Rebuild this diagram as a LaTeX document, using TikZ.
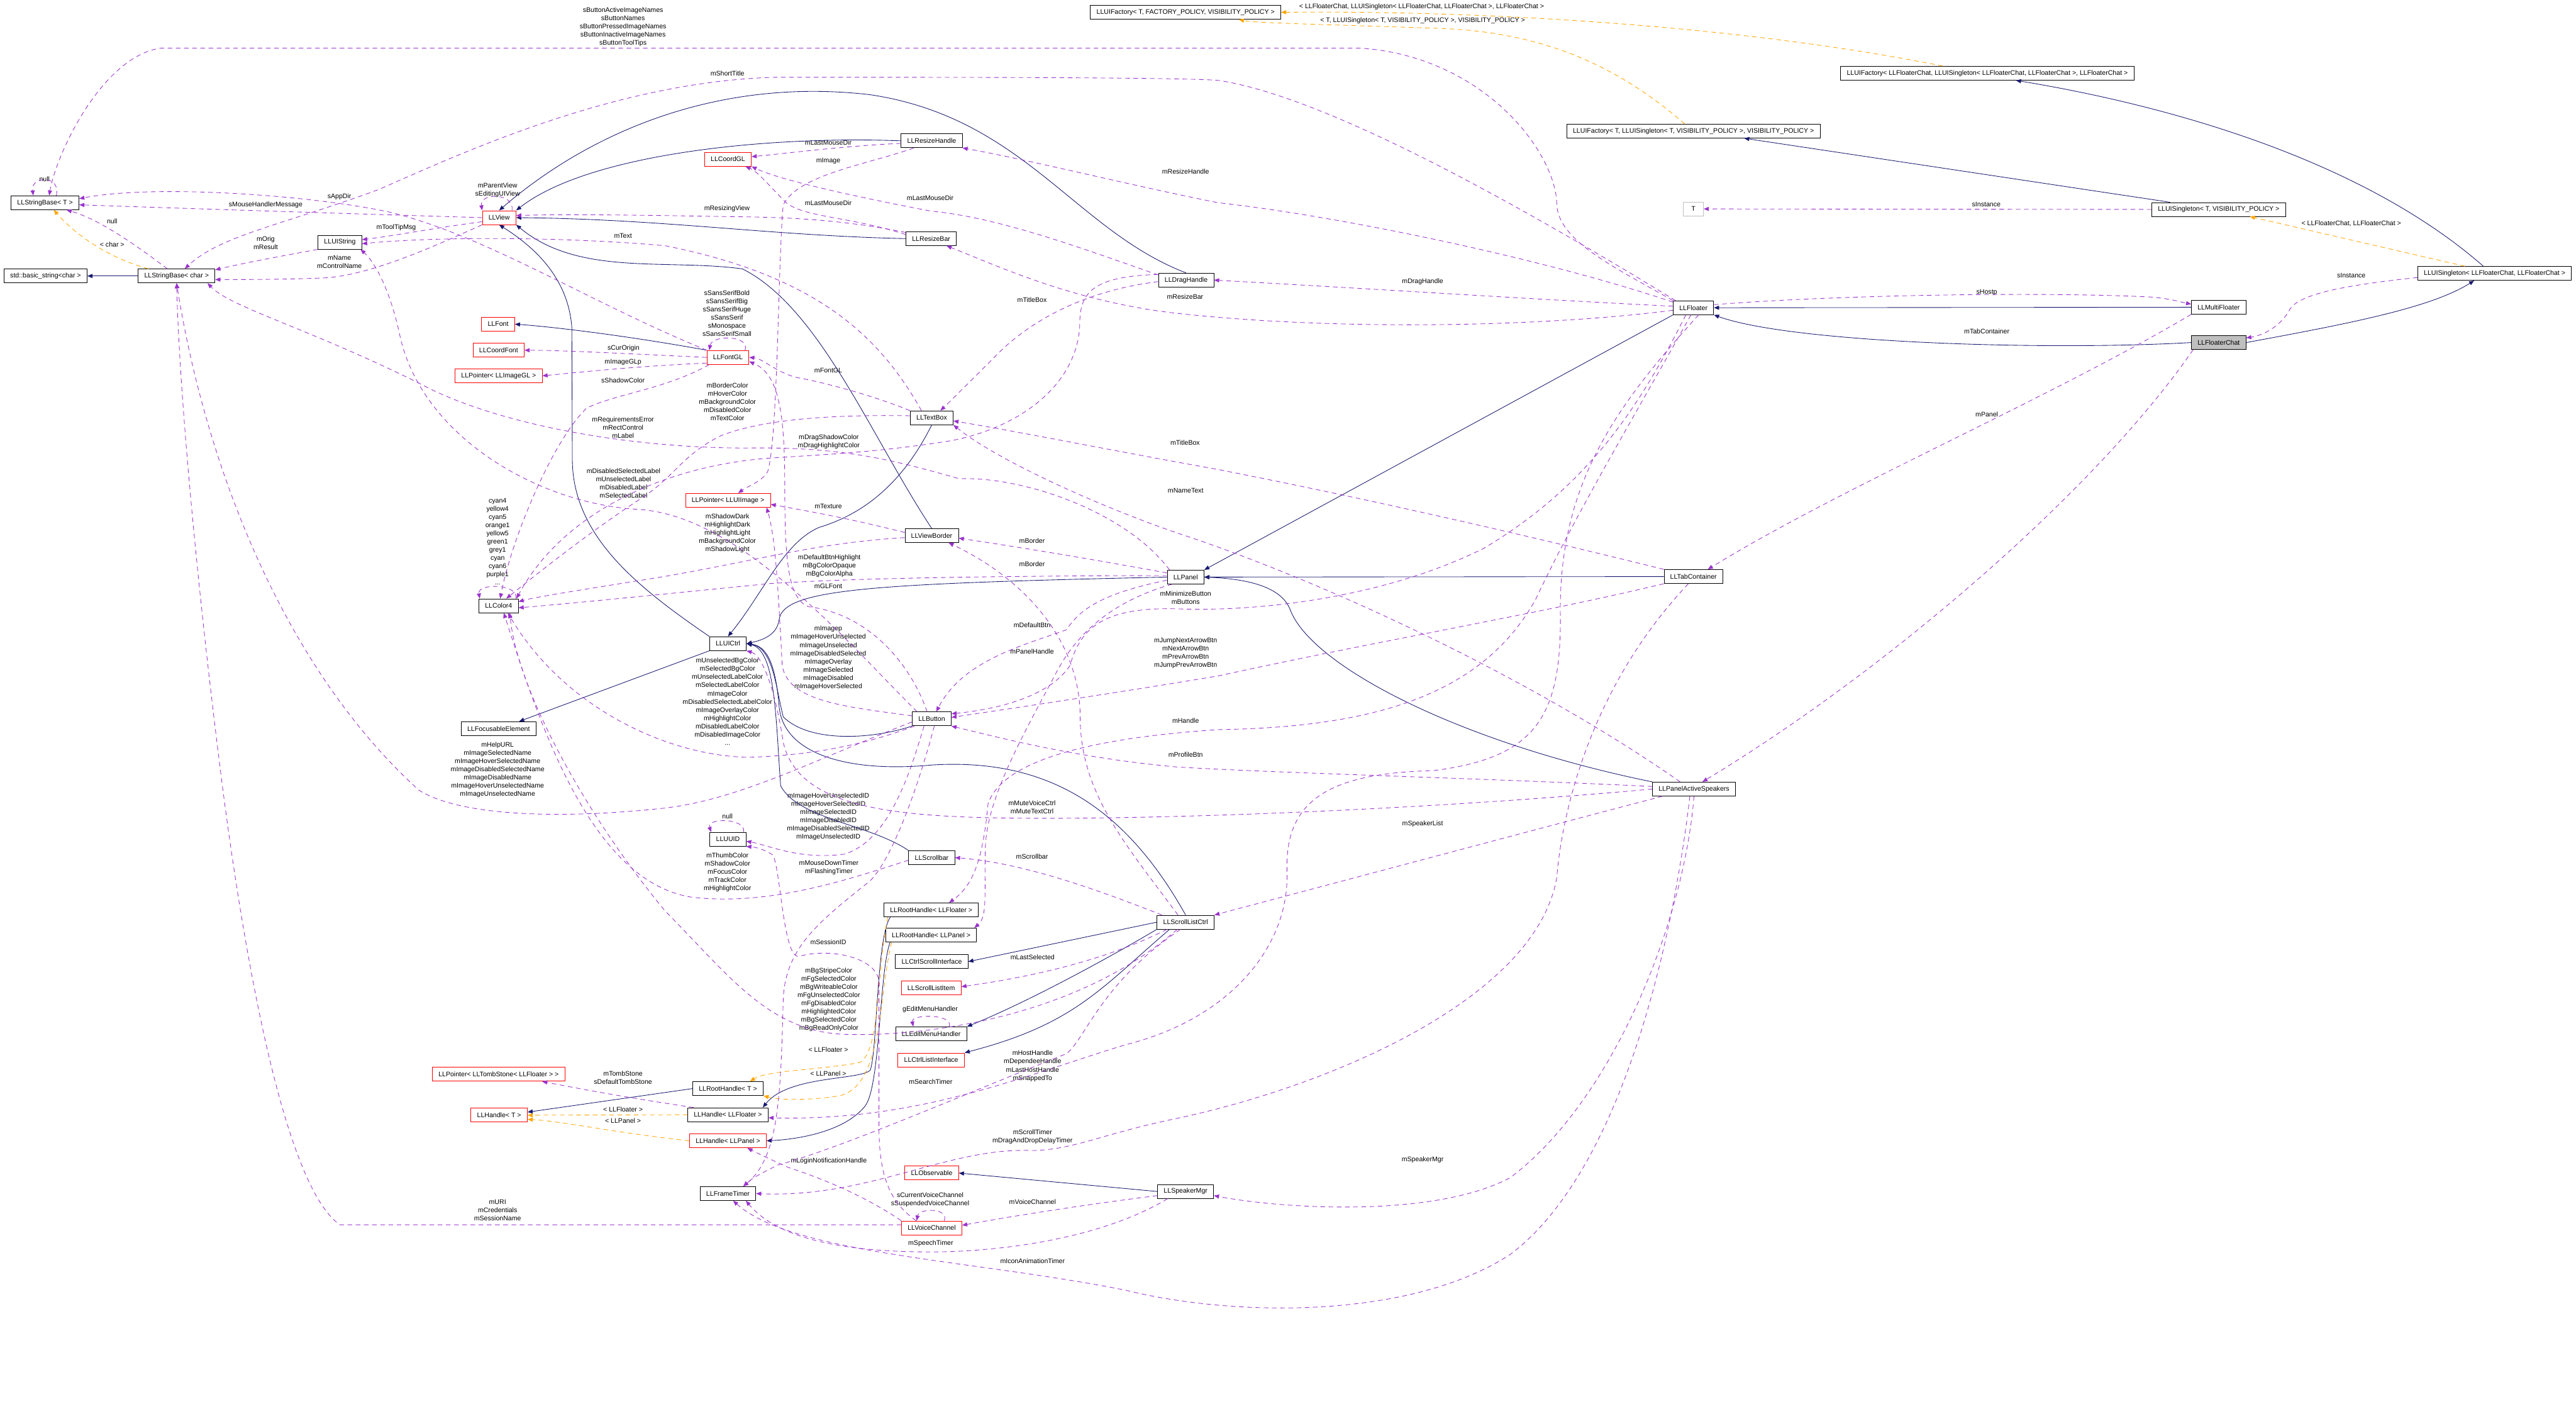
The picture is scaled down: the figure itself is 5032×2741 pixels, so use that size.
\documentclass[tikz,border=0pt]{standalone}
\usepackage{fontspec}
\setmainfont{Liberation Sans}
\usepackage{tikz}
\usetikzlibrary{
  arrows.meta, positioning, calc
}
\usepackage{xcolor}
\definecolor{dgnavy}{HTML}{191970}
\definecolor{dgpurple}{HTML}{9A32CD}
\definecolor{dgorange}{HTML}{FFA500}
\definecolor{dgred}{HTML}{FF0000}
\definecolor{dggray}{HTML}{BFBFBF}
\newcommand{\dgfont}{\fontsize{3.7pt}{4.55pt}\selectfont}

\begin{document}
\begin{tikzpicture}[
  x=0.01cm, y=-0.01cm,
  cls/.style={draw=black, line width=0.3pt, fill=white, font=\dgfont,
    inner xsep=0.12cm, inner ysep=0pt, minimum height=0.27cm},
  ext/.style={cls, draw=dgred},
  focal/.style={cls, fill=dggray},
  tparam/.style={cls, draw=dggray, minimum width=0.39cm},
  lbl/.style={font=\dgfont, align=center, inner sep=0pt},
  inh/.style={draw=dgnavy, line width=0.3pt, -{Triangle[length=0.1cm,width=0.08cm]}},
  use/.style={draw=dgpurple, line width=0.3pt, dash pattern=on 0.09cm off 0.07cm,
    -{Triangle[length=0.1cm,width=0.08cm]}},
  tpl/.style={use, draw=dgorange}
]
  \fill[white] (0,0) rectangle (5032,2741);
  \useasboundingbox (0,0) rectangle (5032,2741);

  \node[cls] (sbT) at (88,396) {LLStringBase< T >};
  \node[cls] (stdstr) at (89,539) {std::basic\_string<char >};
  \node[cls] (sbchar) at (345,539) {LLStringBase< char >};
  \node[cls] (uistr) at (664,473) {LLUIString};
  \node[ext] (view) at (975,425) {LLView};
  \node[ext] (coordgl) at (1422,311) {LLCoordGL};
  \node[ext] (font) at (973,633) {LLFont};
  \node[ext] (coordfont) at (974,684) {LLCoordFont};
  \node[ext] (ptrimggl) at (974,734) {LLPointer< LLImageGL >};
  \node[ext] (fontgl) at (1422,698) {LLFontGL};
  \node[cls] (resizehandle) at (1820,275) {LLResizeHandle};
  \node[cls] (resizebar) at (1819,466) {LLResizeBar};
  \node[cls] (draghandle) at (2317,547) {LLDragHandle};
  \node[cls] (textbox) at (1820,816) {LLTextBox};
  \node[cls] (factT) at (2316,24) {LLUIFactory< T, FACTORY\_POLICY, VISIBILITY\_POLICY >};
  \node[cls] (factTS) at (3308,256) {LLUIFactory< T, LLUISingleton< T, VISIBILITY\_POLICY >, VISIBILITY\_POLICY >};
  \node[cls] (factChat) at (3882,143) {LLUIFactory< LLFloaterChat, LLUISingleton< LLFloaterChat, LLFloaterChat >, LLFloaterChat >};
  \node[tparam] (tT) at (3308,408) {T};
  \node[cls] (floater) at (3308,601) {LLFloater};
  \node[cls] (singT) at (4334,409) {LLUISingleton< T, VISIBILITY\_POLICY >};
  \node[cls] (singChat) at (4873,534) {LLUISingleton< LLFloaterChat, LLFloaterChat >};
  \node[cls] (multi) at (4334,600) {LLMultiFloater};
  \node[focal] (chat) at (4334,669) {LLFloaterChat};
  \node[ext] (ptruiimg) at (1422,977) {LLPointer< LLUIImage >};
  \node[cls] (color4) at (974,1183) {LLColor4};
  \node[cls] (uictrl) at (1422,1257) {LLUICtrl};
  \node[cls] (focus) at (974,1423) {LLFocusableElement};
  \node[cls] (uuid) at (1422,1639) {LLUUID};
  \node[cls] (viewborder) at (1820,1046) {LLViewBorder};
  \node[cls] (panel) at (2316,1127) {LLPanel};
  \node[cls] (tabcont) at (3308,1126) {LLTabContainer};
  \node[cls] (button) at (1820,1404) {LLButton};
  \node[cls] (activespk) at (3309,1541) {LLPanelActiveSpeakers};
  \node[cls] (scrollbar) at (1820,1675) {LLScrollbar};
  \node[cls] (rhFloater) at (1819,1777) {LLRootHandle< LLFloater >};
  \node[cls] (rhPanel) at (1819,1826) {LLRootHandle< LLPanel >};
  \node[cls] (scrolllist) at (2316,1801) {LLScrollListCtrl};
  \node[cls] (ctrlscroll) at (1820,1878) {LLCtrlScrollInterface};
  \node[ext] (scrollitem) at (1819,1929) {LLScrollListItem};
  \node[cls] (editmenu) at (1819,2019) {LLEditMenuHandler};
  \node[ext] (ctrllist) at (1819,2070) {LLCtrlListInterface};
  \node[ext] (observable) at (1820,2291) {LLObservable};
  \node[cls] (speakermgr) at (2316,2327) {LLSpeakerMgr};
  \node[ext] (voicechan) at (1820,2398) {LLVoiceChannel};
  \node[ext] (ptrtomb) at (974,2098) {LLPointer< LLTombStone< LLFloater > >};
  \node[cls] (rhT) at (1422,2126) {LLRootHandle< T >};
  \node[ext] (handleT) at (975,2178) {LLHandle< T >};
  \node[cls] (handleFloater) at (1422,2177) {LLHandle< LLFloater >};
  \node[ext] (handlePanel) at (1422,2228) {LLHandle< LLPanel >};
  \node[cls] (frametimer) at (1422,2331) {LLFrameTimer};

  \node[lbl] (lnullA) at (87,350) {null};
  \node[lbl] (lnullB) at (219,432) {null};
  \node[lbl] (lchar) at (219,477) {< char >};
  \node[lbl] (lMouseMsg) at (519,400) {sMouseHandlerMessage};
  \node[lbl] (lAppDir) at (663,384) {sAppDir};
  \node[lbl] (lOrig) at (519,474) {mOrig\\mResult};
  \node[lbl] (lName) at (663,512) {mName\\mControlName};
  \node[lbl] (lToolTip) at (774,444) {mToolTipMsg};
  \node[lbl] (lParent) at (972,371) {mParentView\\sEditingUIView};
  \node[lbl] (lBtnNames) at (1217,53) {sButtonActiveImageNames\\sButtonNames\\sButtonPressedImageNames\\sButtonInactiveImageNames\\sButtonToolTips};
  \node[lbl] (lShortTitle) at (1421,143) {mShortTitle};
  \node[lbl] (lResizingView) at (1420,408) {mResizingView};
  \node[lbl] (lText) at (1217,460) {mText};
  \node[lbl] (lSans) at (1420,612) {sSansSerifBold\\sSansSerifBig\\sSansSerifHuge\\sSansSerif\\sMonospace\\sSansSerifSmall};
  \node[lbl] (lCurOrigin) at (1218,680) {sCurOrigin};
  \node[lbl] (lImageGLp) at (1217,707) {mImageGLp};
  \node[lbl] (lShadowCol) at (1217,743) {sShadowColor};
  \node[lbl] (lBorderCols) at (1421,785) {mBorderColor\\mHoverColor\\mBackgroundColor\\mDisabledColor\\mTextColor};
  \node[lbl] (lReqErr) at (1217,835) {mRequirementsError\\mRectControl\\mLabel};
  \node[lbl] (lLabels) at (1218,944) {mDisabledSelectedLabel\\mUnselectedLabel\\mDisabledLabel\\mSelectedLabel};
  \node[lbl] (lLastDirA) at (1618,279) {mLastMouseDir};
  \node[lbl] (lImage) at (1618,314) {mImage};
  \node[lbl] (lLastDirB) at (1618,396) {mLastMouseDir};
  \node[lbl] (lLastDirC) at (1817,387) {mLastMouseDir};
  \node[lbl] (lResizeHandle) at (2316,335) {mResizeHandle};
  \node[lbl] (lResizeBar) at (2315,579) {mResizeBar};
  \node[lbl] (lTitleBoxA) at (2016,586) {mTitleBox};
  \node[lbl] (lFontGL) at (1618,724) {mFontGL};
  \node[lbl] (lDragCols) at (1619,863) {mDragShadowColor\\mDragHighlightColor};
  \node[lbl] (lTitleBoxB) at (2315,864) {mTitleBox};
  \node[lbl] (lNameText) at (2316,958) {mNameText};
  \node[lbl] (lTplChat) at (2777,13) {< LLFloaterChat, LLUISingleton< LLFloaterChat, LLFloaterChat >, LLFloaterChat >};
  \node[lbl] (lTplT) at (2779,40) {< T, LLUISingleton< T, VISIBILITY\_POLICY >, VISIBILITY\_POLICY >};
  \node[lbl] (lDragHandle) at (2779,550) {mDragHandle};
  \node[lbl] (lInstT) at (3880,399) {sInstance};
  \node[lbl] (lTplSing) at (4593,437) {< LLFloaterChat, LLFloaterChat >};
  \node[lbl] (lInstChat) at (4593,538) {sInstance};
  \node[lbl] (lHostp) at (3881,571) {sHostp};
  \node[lbl] (lTabCont) at (3881,647) {mTabContainer};
  \node[lbl] (lPanel) at (3881,809) {mPanel};
  \node[lbl] (lColorNames) at (972,1058) {cyan4\\yellow4\\cyan5\\orange1\\yellow5\\green1\\grey1\\cyan\\cyan6\\purple1\\...};
  \node[lbl] (lShadowCols) at (1421,1041) {mShadowDark\\mHighlightDark\\mHighlightLight\\mBackgroundColor\\mShadowLight};
  \node[lbl] (lTexture) at (1618,989) {mTexture};
  \node[lbl] (lPanelCols) at (1620,1105) {mDefaultBtnHighlight\\mBgColorOpaque\\mBgColorAlpha};
  \node[lbl] (lGLFont) at (1618,1145) {mGLFont};
  \node[lbl] (lBorderA) at (2016,1056) {mBorder};
  \node[lbl] (lBorderB) at (2016,1101) {mBorder};
  \node[lbl] (lMinimize) at (2316,1167) {mMinimizeButton\\mButtons};
  \node[lbl] (lImages) at (1618,1285) {mImagep\\mImageHoverUnselected\\mImageUnselected\\mImageDisabledSelected\\mImageOverlay\\mImageSelected\\mImageDisabled\\mImageHoverSelected};
  \node[lbl] (lDefaultBtn) at (2016,1221) {mDefaultBtn};
  \node[lbl] (lPanelHandle) at (2016,1272) {mPanelHandle};
  \node[lbl] (lArrowBtns) at (2316,1276) {mJumpNextArrowBtn\\mNextArrowBtn\\mPrevArrowBtn\\mJumpPrevArrowBtn};
  \node[lbl] (lBtnCols) at (1421,1370) {mUnselectedBgColor\\mSelectedBgColor\\mUnselectedLabelColor\\mSelectedLabelColor\\mImageColor\\mDisabledSelectedLabelColor\\mImageOverlayColor\\mHighlightColor\\mDisabledLabelColor\\mDisabledImageColor\\...};
  \node[lbl] (lHelpURL) at (972,1503) {mHelpURL\\mImageSelectedName\\mImageHoverSelectedName\\mImageDisabledSelectedName\\mImageDisabledName\\mImageHoverUnselectedName\\mImageUnselectedName};
  \node[lbl] (lHandle) at (2316,1408) {mHandle};
  \node[lbl] (lProfileBtn) at (2316,1474) {mProfileBtn};
  \node[lbl] (lImageIDs) at (1618,1595) {mImageHoverUnselectedID\\mImageHoverSelectedID\\mImageSelectedID\\mImageDisabledID\\mImageDisabledSelectedID\\mImageUnselectedID};
  \node[lbl] (lMute) at (2016,1577) {mMuteVoiceCtrl\\mMuteTextCtrl};
  \node[lbl] (lnullC) at (1421,1594) {null};
  \node[lbl] (lScrollCols) at (1421,1704) {mThumbColor\\mShadowColor\\mFocusColor\\mTrackColor\\mHighlightColor};
  \node[lbl] (lScrollbar) at (2016,1673) {mScrollbar};
  \node[lbl] (lTimers) at (1619,1694) {mMouseDownTimer\\mFlashingTimer};
  \node[lbl] (lSpeakerList) at (2779,1609) {mSpeakerList};
  \node[lbl] (lSessionID) at (1618,1840) {mSessionID};
  \node[lbl] (lLastSel) at (2017,1870) {mLastSelected};
  \node[lbl] (lListCols) at (1619,1952) {mBgStripeColor\\mFgSelectedColor\\mBgWriteableColor\\mFgUnselectedColor\\mFgDisabledColor\\mHighlightedColor\\mBgSelectedColor\\mBgReadOnlyColor};
  \node[lbl] (lEditMenu) at (1817,1972) {gEditMenuHandler};
  \node[lbl] (lTplFloaterA) at (1618,2050) {< LLFloater >};
  \node[lbl] (lHostHandle) at (2017,2082) {mHostHandle\\mDependeeHandle\\mLastHostHandle\\mSnappedTo};
  \node[lbl] (lTplPanelA) at (1618,2097) {< LLPanel >};
  \node[lbl] (lSearchTimer) at (1818,2113) {mSearchTimer};
  \node[lbl] (lTombStone) at (1217,2105) {mTombStone\\sDefaultTombStone};
  \node[lbl] (lTplFloaterB) at (1217,2167) {< LLFloater >};
  \node[lbl] (lTplPanelB) at (1217,2189) {< LLPanel >};
  \node[lbl] (lScrollTimer) at (2017,2220) {mScrollTimer\\mDragAndDropDelayTimer};
  \node[lbl] (lSpeakerMgr) at (2779,2265) {mSpeakerMgr};
  \node[lbl] (lLoginHandle) at (1619,2267) {mLoginNotificationHandle};
  \node[lbl] (lVoiceStatic) at (1817,2343) {sCurrentVoiceChannel\\sSuspendedVoiceChannel};
  \node[lbl] (lVoiceChannel) at (2017,2347) {mVoiceChannel};
  \node[lbl] (lURI) at (972,2364) {mURI\\mCredentials\\mSessionName};
  \node[lbl] (lSpeechTimer) at (1818,2429) {mSpeechTimer};
  \node[lbl] (lIconTimer) at (2017,2463) {mIconAnimationTimer};

  \draw[inh] (sbchar.west) -- (stdstr.east);
  \draw[inh] (fontgl.north west) .. controls (1250,660) and (1100,640) .. (font.east);
  \draw[inh] (uictrl.north west) .. controls (1250,1150) and (1120,1050) .. (1118,900) -- (1117,640) .. controls (1110,540) and (1040,480) .. (view.south);
  \draw[inh] (uictrl.south west) -- ($(focus.north)+(40,0)$);
  \draw[inh] (resizehandle.west) .. controls (1500,265) and (1150,300) .. (view.north east);
  \draw[inh] (resizebar.west) .. controls (1500,460) and (1300,428) .. (view.east);
  \draw[inh] (draghandle.north) .. controls (2100,450) and (2000,230) .. (1700,185) .. controls (1400,150) and (1150,260) .. (view.north);
  \draw[inh] (textbox.south) .. controls (1770,930) and (1700,1000) .. (1600,1030) .. controls (1530,1060) and (1490,1160) .. (uictrl.north);
  \draw[inh] (viewborder.north) .. controls (1700,850) and (1600,600) .. (1450,525) .. controls (1300,505) and (1130,540) .. (view.south east);
  \draw[inh] (panel.west) .. controls (1700,1140) and (1530,1150) .. (1522,1210) .. controls (1518,1240) and (1490,1250) .. (uictrl.east);
  \draw[inh] (button.south west) .. controls (1700,1445) and (1580,1450) .. (1530,1400) .. controls (1515,1340) and (1510,1265) .. (uictrl.east);
  \draw[inh] (scrollbar.north west) .. controls (1700,1610) and (1560,1600) .. (1525,1535) .. controls (1515,1400) and (1515,1270) .. (uictrl.east);
  \draw[inh] (scrolllist.north) .. controls (2200,1580) and (2050,1480) .. (1821,1494) .. controls (1650,1510) and (1530,1470) .. (1522,1380) .. controls (1515,1300) and (1500,1262) .. (uictrl.east);
  \draw[inh] (floater.south west) -- (panel.north east);
  \draw[inh] (tabcont.west) -- (panel.east);
  \draw[inh] (activespk.north west) .. controls (2850,1450) and (2560,1300) .. (2520,1190) .. controls (2500,1140) and (2420,1130) .. (panel.east);
  \draw[inh] (chat.west) .. controls (4000,685) and (3500,670) .. (floater.south east);
  \draw[inh] (chat.east) .. controls (4600,630) and (4750,600) .. ($(singChat.south)+(-40,0)$);
  \draw[inh] ($(singChat.north)+(-22,0)$) .. controls (4600,300) and (4200,200) .. ($(factChat.south)+(56,0)$);
  \draw[inh] ($(singT.north)+(-95,0)$) -- ($(factTS.south)+(99,0)$);
  \draw[inh] (multi.west) -- (floater.east);
  \draw[inh] (scrolllist.west) -- (ctrlscroll.east);
  \draw[inh] (scrolllist.south west) .. controls (2150,1880) and (2000,1960) .. (editmenu.north east);
  \draw[inh] ($(scrolllist.south west)+(25,0)$) .. controls (2150,1930) and (2100,2000) .. (ctrllist.north east);
  \draw[inh] (speakermgr.west) -- (observable.east);
  \draw[inh] (rhT.west) -- ($(handleT.east)+(0,-6)$);
  \draw[inh] ($(rhFloater.south west)+(13,0)$) .. controls (1712,1830) and (1714,2050) .. (1700,2090) .. controls (1680,2110) and (1540,2100) .. ($(handleFloater.north east)+(-11,0)$);
  \draw[inh] ($(rhPanel.south west)+(9,0)$) .. controls (1717,1900) and (1720,2120) .. (1690,2160) .. controls (1650,2210) and (1560,2225) .. (handlePanel.east);

  \draw[tpl] ($(factChat.north west)+(200,0)$) .. controls (3400,50) and (2900,20) .. (factT.east);
  \draw[tpl] ($(factTS.north)+(-17,0)$) .. controls (3150,120) and (3000,60) .. (2800,55) .. controls (2600,48) and (2450,45) .. ($(factT.south)+(104,0)$);
  \draw[tpl] ($(singChat.north)+(-58,0)$) -- ($(singT.south)+(61,0)$);
  \draw[tpl] (handleFloater.west) -- (handleT.east);
  \draw[tpl] (handlePanel.west) .. controls (1200,2212) and (1100,2190) .. ($(handleT.east)+(0,8)$);
  \draw[tpl] ($(rhFloater.south west)+(8,0)$) .. controls (1712,1900) and (1720,2050) .. (1680,2075) .. controls (1600,2090) and (1500,2090) .. ($(rhT.north)+(43,0)$);
  \draw[tpl] ($(rhPanel.south west)+(12,0)$) .. controls (1715,1950) and (1725,2120) .. (1640,2140) .. controls (1580,2150) and (1520,2148) .. (rhT.south east);
  \draw[tpl] ($(sbchar.north)+(-55,0)$) .. controls (200,500) and (140,450) .. ($(sbT.south)+(17,0)$);

  \draw[use] ($(sbT.north)+(22,0)$) .. controls +(10,-40) and +(-5,-40) .. ($(sbT.north)+(-23,0)$);
  \draw[use] ($(sbchar.north)+(-18,0)$) .. controls (280,490) and (200,430) .. ($(sbT.south)+(42,0)$);
  \draw[use] (floater.north west) .. controls (3150,520) and (3045,470) .. (3041,400) .. controls (3041,300) and (2900,110) .. (2657,94) -- (314,94) .. controls (200,110) and (110,300) .. ($(sbT.north)+(8,0)$);
  \draw[use] ($(floater.north)+(-35,0)$) .. controls (3000,420) and (2600,190) .. (2380,157) .. controls (2300,150) and (1700,151) .. (1512,151) .. controls (1200,160) and (900,300) .. (740,370) .. controls (550,440) and (430,460) .. ($(sbchar.north)+(16,0)$);
  \draw[use] (view.west) .. controls (700,418) and (300,405) .. ($(sbT.east)+(0,4)$);
  \draw[use] (fontgl.north west) .. controls (1150,590) and (950,460) .. (760,414) .. controls (600,380) and (300,360) .. ($(sbT.east)+(0,-8)$);
  \draw[use] (uistr.south west) .. controls (550,500) and (470,515) .. ($(sbchar.east)+(0,-12)$);
  \draw[use] (view.south west) .. controls (850,480) and (720,540) .. (628,543) .. controls (550,546) and (470,546) .. ($(sbchar.east)+(0,7)$);
  \draw[use] ($(view.west)+(0,8)$) .. controls (850,445) and (760,462) .. ($(uistr.east)+(0,-5)$);
  \draw[use] ($(textbox.north)+(-20,0)$) .. controls (1720,660) and (1600,540) .. (1300,480) .. controls (1100,462) and (850,462) .. ($(uistr.east)+(0,3)$);
  \draw[use] ($(view.north east)+(-8,0)$) .. controls +(5,-35) and +(-5,-35) .. (view.north west);
  \draw[use] ($(resizebar.north west)+(0,2)$) .. controls (1650,430) and (1550,424) .. (1420,423) .. controls (1250,420) and (1100,418) .. ($(view.east)+(0,-4)$);
  \draw[use] ($(resizehandle.west)+(0,5)$) .. controls (1650,285) and (1550,298) .. ($(coordgl.east)+(0,-5)$);
  \draw[use] ($(resizehandle.south west)+(25,0)$) .. controls (1700,320) and (1560,340) .. (1530,400) .. controls (1520,500) and (1520,850) .. (1500,920) .. controls (1490,940) and (1460,950) .. ($(ptruiimg.north)+(20,0)$);
  \draw[use] ($(resizebar.north west)+(0,6)$) .. controls (1650,420) and (1560,425) .. (1530,390) .. controls (1500,360) and (1480,335) .. ($(coordgl.south east)+(-12,0)$);
  \draw[use] ($(draghandle.west)+(0,-10)$) .. controls (2100,480) and (1950,425) .. (1817,412) .. controls (1650,380) and (1520,350) .. (coordgl.south east);
  \draw[use] ($(floater.north west)+(0,3)$) .. controls (3000,500) and (2600,420) .. (2380,396) .. controls (2200,360) and (2000,310) .. (resizehandle.south east);
  \draw[use] ($(floater.west)+(0,5)$) .. controls (3000,640) and (2600,645) .. (2300,612) .. controls (2100,590) and (1950,520) .. ($(resizebar.south)+(30,0)$);
  \draw[use] ($(floater.west)+(0,-3)$) .. controls (3000,585) and (2700,565) .. (draghandle.east);
  \draw[use] ($(draghandle.west)+(0,3)$) .. controls (2100,570) and (2000,640) .. (1950,690) .. controls (1900,740) and (1860,780) .. ($(textbox.north)+(17,0)$);
  \draw[use] ($(draghandle.north west)+(0,3)$) .. controls (2120,540) and (2109,580) .. (2109,640) .. controls (2100,760) and (1980,840) .. (1850,862) .. controls (1700,885) and (1600,888) .. (1500,895) .. controls (1300,910) and (1100,1000) .. ($(color4.north east)+(-4,0)$);
  \draw[use] (tabcont.north west) .. controls (3000,1050) and (2700,980) .. (2380,917) .. controls (2200,885) and (2000,845) .. ($(textbox.east)+(0,6)$);
  \draw[use] ($(activespk.north)+(-27,0)$) .. controls (3000,1330) and (2600,1140) .. (2300,1041) .. controls (2150,990) and (1950,900) .. (textbox.south east);
  \draw[use] ($(viewborder.west)+(0,-6)$) .. controls (1650,1010) and (1560,995) .. ($(ptruiimg.east)+(0,8)$);
  \draw[use] ($(viewborder.west)+(0,4)$) .. controls (1600,1060) and (1500,1090) .. (1303,1125) .. controls (1150,1150) and (1050,1165) .. ($(color4.east)+(0,-8)$);
  \draw[use] ($(panel.west)+(0,-3)$) .. controls (1900,1125) and (1650,1130) .. (1500,1140) .. controls (1300,1160) and (1100,1180) .. ($(color4.east)+(0,4)$);
  \draw[use] ($(panel.west)+(0,-8)$) .. controls (2150,1095) and (2000,1070) .. ($(viewborder.east)+(0,5)$);
  \draw[use] ($(scrolllist.north)+(-15,0)$) .. controls (2200,1650) and (2110,1550) .. (2110,1400) .. controls (2110,1250) and (2000,1130) .. ($(viewborder.south)+(33,0)$);
  \draw[use] ($(floater.south)+(-15,0)$) .. controls (3200,800) and (3100,950) .. (2900,1070) .. controls (2700,1170) and (2450,1195) .. (2300,1189) .. controls (2150,1185) and (2110,1230) .. (2090,1300) .. controls (2050,1360) and (1950,1385) .. ($(button.east)+(0,-10)$);
  \draw[use] ($(panel.west)+(0,6)$) .. controls (2150,1160) and (2110,1190) .. (2083,1230) .. controls (2000,1260) and (1880,1290) .. ($(button.north)+(9,0)$);
  \draw[use] (tabcont.south west) .. controls (3000,1200) and (2700,1250) .. (2380,1320) .. controls (2200,1350) and (2000,1380) .. ($(button.east)+(0,-3)$);
  \draw[use] ($(floater.south)+(-5,0)$) .. controls (3200,800) and (3080,1000) .. (3000,1170) .. controls (2900,1350) and (2700,1420) .. (2380,1425) .. controls (2150,1440) and (1960,1480) .. (1930,1570) .. controls (1920,1680) and (1900,1730) .. ($(rhFloater.north)+(35,0)$);
  \draw[use] ($(activespk.west)+(0,-5)$) .. controls (2900,1520) and (2500,1510) .. (2300,1498) .. controls (2100,1480) and (1950,1440) .. (button.south east);
  \draw[use] (activespk.west) .. controls (2800,1580) and (2300,1600) .. (2000,1598) .. controls (1750,1596) and (1560,1580) .. (1530,1450) .. controls (1515,1350) and (1490,1280) .. (uictrl.south east);
  \draw[use] ($(button.south)+(-15,0)$) .. controls (1780,1500) and (1740,1640) .. (1650,1668) .. controls (1560,1680) and (1500,1650) .. ($(uuid.east)+(0,4)$);
  \draw[use] ($(button.south)+(5,0)$) .. controls (1790,1550) and (1740,1680) .. (1700,1720) .. controls (1600,1800) and (1535,1850) .. (1530,1950) .. controls (1525,2150) and (1520,2260) .. ($(frametimer.north)+(30,0)$);
  \draw[use] ($(scrollbar.west)+(0,5)$) .. controls (1650,1720) and (1500,1770) .. (1350,1752) .. controls (1150,1720) and (1050,1400) .. ($(color4.south)+(10,0)$);
  \draw[use] ($(button.south west)+(5,0)$) .. controls (1700,1450) and (1600,1475) .. (1460,1479) .. controls (1300,1475) and (1100,1380) .. ($(color4.south)+(18,0)$);
  \draw[use] ($(button.west)+(0,6)$) .. controls (1600,1480) and (1450,1560) .. (1300,1578) .. controls (1100,1600) and (900,1595) .. (818,1543) .. controls (550,1300) and (400,900) .. (sbchar.south);
  \draw[use] ($(voicechan.west)+(0,-6)$) -- (664,2392) .. controls (560,2320) and (480,1900) .. (430,1500) .. controls (380,1100) and (350,750) .. (sbchar.south);
  \draw[use] ($(button.west)+(0,-6)$) .. controls (1650,1380) and (1540,1370) .. (1528,1300) .. controls (1520,1150) and (1515,1050) .. ($(ptruiimg.south east)+(-8,0)$);
  \draw[use] ($(button.north west)+(10,0)$) .. controls (1650,1250) and (1450,1010) .. (1250,995) .. controls (1050,985) and (820,850) .. (780,650) .. controls (760,560) and (730,510) .. ($(uistr.south east)+(-3,0)$);
  \draw[use] ($(button.north)+(-9,0)$) .. controls (1780,1300) and (1700,1200) .. (1580,1185) .. controls (1540,1170) and (1533,1100) .. (1533,950) .. controls (1533,800) and (1520,730) .. ($(fontgl.east)+(0,8)$);
  \draw[use] (textbox.north west) .. controls (1700,770) and (1600,745) .. (1560,738) .. controls (1520,730) and (1490,700) .. (fontgl.east);
  \draw[use] ($(textbox.west)+(0,-4)$) .. controls (1650,810) and (1500,815) .. (1408,851) .. controls (1330,890) and (1320,930) .. (1250,975) .. controls (1150,1040) and (1050,1120) .. ($(color4.north)+(15,0)$);
  \draw[use] ($(fontgl.south west)+(5,0)$) .. controls (1300,760) and (1200,770) .. (1146,797) .. controls (1080,860) and (1000,1050) .. ($(color4.north)+(3,0)$);
  \draw[use] ($(fontgl.north east)+(-8,0)$) .. controls +(10,-30) and +(5,-30) .. ($(fontgl.north west)+(5,0)$);
  \draw[use] (fontgl.west) .. controls (1250,692) and (1100,684) .. (coordfont.east);
  \draw[use] ($(fontgl.south west)+(0,-3)$) .. controls (1250,715) and (1150,725) .. (ptrimggl.east);
  \draw[use] ($(scrolllist.north west)+(10,0)$) .. controls (2150,1740) and (2000,1685) .. (scrollbar.east);
  \draw[use] ($(scrolllist.south west)+(20,0)$) .. controls (2150,1880) and (2000,1910) .. ($(scrollitem.east)+(0,-2)$);
  \draw[use] ($(scrolllist.south west)+(40,0)$) .. controls (2100,1990) and (1800,2025) .. (1650,2020) .. controls (1500,2015) and (1420,1900) .. (1300,1780) .. controls (1150,1600) and (1010,1350) .. ($(color4.south)+(22,0)$);
  \draw[use] ($(scrolllist.south)+(-10,0)$) .. controls (2150,1920) and (2120,2030) .. (2083,2058) .. controls (1900,2130) and (1650,2240) .. (1520,2275) .. controls (1490,2290) and (1470,2300) .. ($(frametimer.north)+(30,0)$);
  \draw[use] ($(floater.south)+(10,0)$) .. controls (3150,800) and (3045,950) .. (3048,1200) .. controls (3050,1400) and (3000,1480) .. (2800,1505) .. controls (2600,1510) and (2510,1560) .. (2514,1700) .. controls (2520,1850) and (2400,1990) .. (2200,2040) .. controls (2000,2100) and (1800,2190) .. ($(handleFloater.east)+(0,6)$);
  \draw[use] ($(tabcont.south)+(-10,0)$) .. controls (3100,1350) and (3050,1600) .. (3041,1714) .. controls (3000,1950) and (2600,2120) .. (2300,2184) .. controls (2150,2215) and (2100,2245) .. (2017,2247) .. controls (1850,2240) and (1700,2340) .. (frametimer.east);
  \draw[use] ($(activespk.south west)+(20,0)$) .. controls (3000,1620) and (2700,1700) .. (scrolllist.north east);
  \draw[use] (activespk.south) .. controls (3290,1800) and (3150,2150) .. (2950,2300) .. controls (2800,2380) and (2500,2360) .. ($(speakermgr.east)+(0,8)$);
  \draw[use] ($(activespk.south)+(-8,0)$) .. controls (3260,1900) and (3150,2300) .. (2950,2450) .. controls (2750,2580) and (2400,2570) .. (2200,2520) .. controls (1900,2460) and (1550,2450) .. ($(frametimer.south)+(10,0)$);
  \draw[use] ($(speakermgr.south west)+(20,0)$) .. controls (2150,2420) and (1950,2445) .. (1818,2445) .. controls (1650,2445) and (1520,2420) .. ($(frametimer.south east)+(-20,0)$);
  \draw[use] ($(speakermgr.west)+(0,8)$) .. controls (2100,2355) and (1950,2380) .. ($(voicechan.east)+(0,-5)$);
  \draw[use] ($(voicechan.north east)+(-35,0)$) .. controls +(10,-25) and +(5,-25) .. ($(voicechan.north west)+(30,0)$);
  \draw[use] (voicechan.north west) .. controls (1680,2330) and (1600,2300) .. (1540,2280) .. controls (1500,2262) and (1475,2250) .. ($(handlePanel.south)+(38,0)$);
  \draw[use] ($(voicechan.north)+(-30,0)$) .. controls (1740,2350) and (1717,2300) .. (1717,2200) -- (1717,1920) .. controls (1717,1870) and (1620,1850) .. (1560,1868) .. controls (1530,1870) and (1525,1700) .. (1510,1670) .. controls (1495,1660) and (1480,1655) .. (uuid.south east);
  \draw[use] ($(uuid.north east)+(-5,0)$) .. controls +(5,-28) and +(-10,-28) .. ($(uuid.north west)+(3,0)$);
  \draw[use] ($(color4.north east)+(-5,0)$) .. controls +(5,-30) and +(-5,-30) .. ($(color4.north west)+(2,0)$);
  \draw[use] ($(editmenu.north east)+(-35,0)$) .. controls +(10,-25) and +(-5,-25) .. ($(editmenu.north west)+(35,0)$);
  \draw[use] ($(handleFloater.north west)+(12,0)$) .. controls (1200,2140) and (1100,2120) .. ($(ptrtomb.south east)+(-45,0)$);
  \draw[use] ($(chat.south)+(-50,0)$) .. controls (4100,950) and (3700,1300) .. ($(activespk.north east)+(-65,0)$);
  \draw[use] (multi.south west) .. controls (4000,780) and (3600,950) .. ($(tabcont.north)+(28,0)$);
  \draw[use] ($(floater.east)+(0,-6)$) .. controls (3600,575) and (4000,570) .. (4200,580) .. controls (4240,583) and (4260,590) .. ($(multi.west)+(0,-6)$);
  \draw[use] (singT.west) -- (tT.east);
  \draw[use] ($(singChat.west)+(0,8)$) .. controls (4550,560) and (4480,580) .. (4470,610) .. controls (4450,640) and (4420,655) .. ($(chat.north east)+(0,5)$);
  \draw[use] ($(panel.north west)+(5,0)$) .. controls (2200,1000) and (2000,930) .. (1874,935) .. controls (1750,900) and (1650,872) .. (1460,875) .. controls (1200,875) and (950,820) .. (820,749) .. controls (600,640) and (450,600) .. ($(sbchar.south east)+(-15,0)$);
  \draw[use] ($(panel.south west)+(10,0)$) .. controls (2150,1180) and (2090,1260) .. (2060,1320) .. controls (1990,1450) and (1930,1560) .. (1925,1650) .. controls (1922,1740) and (1930,1790) .. ($(rhPanel.north east)+(-5,0)$);
\end{tikzpicture}
\end{document}
